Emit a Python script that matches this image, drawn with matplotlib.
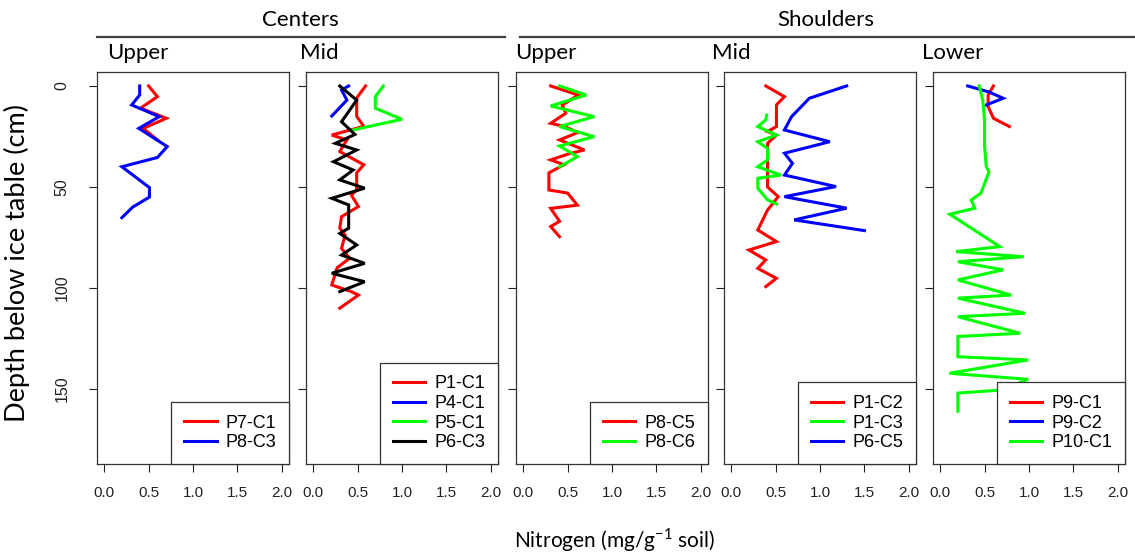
import matplotlib.pyplot as plt

plt.rcParams['font.family'] = ['Liberation Sans', 'DejaVu Sans']
plt.rcParams['mathtext.fontset'] = 'custom'
plt.rcParams['mathtext.rm'] = 'Lato'

# Centers / Upper
p7_c1_depth = [0, 5.3, 11, 16, 21, 26.7]
p7_c1_n = [0.50, 0.60, 0.41, 0.70, 0.44, 0.60]
p8_c3_depth = [0, 4.5, 9.4, 15.2, 21, 30, 35.4, 40, 50.3, 55, 60, 65.2]
p8_c3_n = [0.40, 0.40, 0.31, 0.62, 0.39, 0.71, 0.60, 0.20, 0.51, 0.51, 0.32, 0.20]

# Centers / Mid
p1_c1_depth = [0, 6, 15, 20, 24.3, 26.7, 32.5, 39, 43, 51.5, 54, 59.7, 64.7, 70.4,
               73.8, 80.4, 85.3, 90, 98.5, 101.8, 103.5, 110]
p1_c1_n = [0.59, 0.49, 0.49, 0.57, 0.21, 0.38, 0.30, 0.57, 0.49, 0.49, 0.43, 0.51, 0.32, 0.30,
           0.36, 0.32, 0.41, 0.27, 0.21, 0.43, 0.51, 0.30]
p4_c1_depth = [0, 2, 7, 14.9]
p4_c1_n = [0.40, 0.32, 0.38, 0.21]
p5_c1_depth = [0, 5.3, 11, 16.5, 21.4, 22]
p5_c1_n = [0.79, 0.70, 0.70, 1.00, 0.49, 0.43]
p6_c3_depth = [0, 7, 17.7, 24, 28.4, 31.7, 37.5, 41.6, 46.5, 50.6, 55.6, 58.9, 70.4, 73,
               78.7, 83.7, 87.8, 92.7, 96.9, 101.8]
p6_c3_n = [0.30, 0.49, 0.32, 0.47, 0.25, 0.49, 0.23, 0.45, 0.30, 0.58, 0.21, 0.40, 0.40, 0.30,
           0.49, 0.32, 0.58, 0.21, 0.58, 0.30]

# Shoulders / Upper
p8_c5_depth = [0, 4.5, 9.5, 13.5, 18.5, 20, 23, 26.7, 31.7, 33.5, 36.6, 39, 43, 51.5, 53,
               59, 60.6, 67, 69.6, 74.6]
p8_c5_n = [0.31, 0.62, 0.44, 0.48, 0.31, 0.46, 0.62, 0.41, 0.69, 0.52, 0.31, 0.46, 0.29, 0.29, 0.50,
           0.61, 0.31, 0.41, 0.31, 0.41]
p8_c6_depth = [0, 4.5, 9.9, 15.2, 20.1, 25.1, 29.7, 35, 40]
p8_c6_n = [0.41, 0.71, 0.31, 0.80, 0.41, 0.80, 0.41, 0.61, 0.41]

# Shoulders / Mid
p1_c2_depth = [0, 5.3, 9.4, 20.1, 22.6, 24.3, 28.4, 50, 54.8, 61.4, 71.3, 77, 81.2, 86.1,
               90.3, 95.2, 99.3]
p1_c2_n = [0.39, 0.60, 0.51, 0.51, 0.41, 0.51, 0.41, 0.41, 0.53, 0.41, 0.30, 0.51, 0.20, 0.39,
           0.30, 0.51, 0.39]
p1_c3_depth = [14.4, 16.8, 20.1, 24.3, 27.6, 30.9, 36.6, 40, 44.1, 45.7, 50.6, 56.4, 58.4]
p1_c3_n = [0.40, 0.39, 0.30, 0.51, 0.30, 0.41, 0.41, 0.30, 0.56, 0.30, 0.30, 0.41, 0.51]
p6_c5_depth = [0, 6.1, 15.2, 21.8, 27.6, 33.3, 38.3, 44.1, 49.8, 54.8, 60.5, 66.3, 71.6]
p6_c5_n = [1.30, 0.88, 0.68, 0.60, 1.11, 0.60, 0.69, 0.60, 1.18, 0.60, 1.30, 0.71, 1.50]

# Shoulders / Lower
p9_c1_depth = [0, 4.5, 10.2, 16, 20.1]
p9_c1_n = [0.60, 0.54, 0.54, 0.60, 0.78]
p9_c2_depth = [0, 3, 6.1, 9.4]
p9_c2_n = [0.31, 0.55, 0.71, 0.52]
p10_c1_depth = [0, 7, 17, 30, 40, 42.5, 53, 56.5, 60.5, 63.5, 79.5, 82, 84.5, 87, 91, 96,
                103.5, 105, 112.5, 114.2, 122.4, 124, 134, 135.6, 142.2, 145.2, 150.5, 152, 161]
p10_c1_n = [0.44, 0.48, 0.50, 0.50, 0.52, 0.55, 0.46, 0.35, 0.39, 0.11, 0.67, 0.18, 0.94, 0.20,
            0.71, 0.20, 0.80, 0.20, 0.955, 0.20, 0.90, 0.20, 0.20, 0.99, 0.105, 0.99, 0.69, 0.20, 0.20]

panel_titles = ['Upper', 'Mid', 'Upper', 'Mid', 'Lower']
panels = [
    [('P7-C1', 'red', p7_c1_n, p7_c1_depth), ('P8-C3', 'blue', p8_c3_n, p8_c3_depth)],
    [('P1-C1', 'red', p1_c1_n, p1_c1_depth), ('P4-C1', 'blue', p4_c1_n, p4_c1_depth),
     ('P5-C1', '#00ff00', p5_c1_n, p5_c1_depth), ('P6-C3', 'black', p6_c3_n, p6_c3_depth)],
    [('P8-C5', 'red', p8_c5_n, p8_c5_depth), ('P8-C6', '#00ff00', p8_c6_n, p8_c6_depth)],
    [('P1-C2', 'red', p1_c2_n, p1_c2_depth), ('P1-C3', '#00ff00', p1_c3_n, p1_c3_depth),
     ('P6-C5', 'blue', p6_c5_n, p6_c5_depth)],
    [('P9-C1', 'red', p9_c1_n, p9_c1_depth), ('P9-C2', 'blue', p9_c2_n, p9_c2_depth),
     ('P10-C1', '#00ff00', p10_c1_n, p10_c1_depth)],
]

W, H = 1135, 556
fig = plt.figure(figsize=(W / 100, H / 100), dpi=100)

lefts = [97, 306, 516, 724, 933]
title_x = [107, 300, 515, 712, 922]
box_w, box_top, box_bot = 192, 72, 464

for i, series in enumerate(panels):
    ax = fig.add_axes([lefts[i] / W, 1 - box_bot / H, box_w / W, (box_bot - box_top) / H])
    for name, col, n, d in series:
        ax.plot(n, d, color=col, lw=2.2, label=name, solid_joinstyle='miter')
    ax.set_xlim(-0.08, 2.08)
    ax.set_ylim(187.1, -6.9)
    ax.set_xticks([0, 0.5, 1.0, 1.5, 2.0])
    ax.set_xticklabels(['0.0', '0.5', '1.0', '1.5', '2.0'])
    ax.set_yticks([0, 50, 100, 150])
    ax.tick_params(direction='out', length=5.8, width=0.8, labelsize=11, colors='#222222')
    ax.tick_params(axis='x', pad=10)
    if i == 0:
        ax.tick_params(axis='y', labelrotation=90, pad=14, labelsize=11.5)
        for lab in ax.get_yticklabels():
            lab.set_va('center')
    else:
        ax.set_yticklabels([])
    for sp in ax.spines.values():
        sp.set_linewidth(0.9)
        sp.set_color('#333333')
    leg = ax.legend(loc='lower right', borderaxespad=0, fancybox=False, framealpha=1,
                    edgecolor='#333333', fontsize=13, handlelength=1.8, handletextpad=0.5,
                    labelspacing=0.15, borderpad=0.7)
    leg.get_frame().set_linewidth(0.9)
    fig.text(title_x[i] / W, 1 - 53 / H, panel_titles[i], family='Lato', fontsize=16,
             ha='left', va='center')

# group headers with underline
fig.text(300 / W, 1 - 20 / H, 'Centers', family='Lato', fontsize=16, ha='center', va='center')
fig.text(826 / W, 1 - 20 / H, 'Shoulders', family='Lato', fontsize=16, ha='center', va='center')
fig.add_artist(plt.Line2D([97 / W, 505 / W], [1 - 37 / H] * 2, color='#404040', lw=1.6))
fig.add_artist(plt.Line2D([520 / W, 1135 / W], [1 - 37 / H] * 2, color='#404040', lw=1.6))

fig.text(17 / W, 1 - 263 / H, 'Depth below ice table (cm)', family='Lato', fontsize=19.5,
         rotation=90, ha='center', va='center')
fig.text(615 / W, 1 - 540 / H, r'Nitrogen (mg/g$^{\mathregular{-1}}$ soil)', family='Lato',
         fontsize=15, ha='center', va='center')

fig.savefig('out.png', dpi=100)
